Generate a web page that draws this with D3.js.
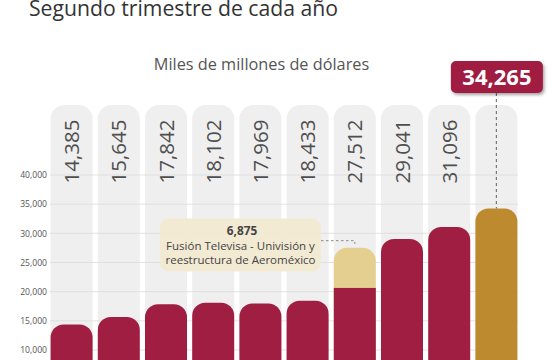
<!DOCTYPE html>
<html>
<head>
<meta charset="utf-8">
<script src="https://cdn.jsdelivr.net/npm/d3@7"></script>
<style>
  html, body { margin: 0; padding: 0; background: #fff; }
  svg { display: block; font-family: "Open Sans", "Noto Sans", sans-serif; }
</style>
</head>
<body>
<svg id="chart" width="560" height="360"></svg>
<script>
// ---- data ----
const years = ["2016","2017","2018","2019","2020","2021","2022","2023","2024","2025"];
const values = [14385, 15645, 17842, 18102, 17969, 18433, 27512, 29041, 31096, 34265];
const extraYear = "2022";
const extraValue = 6875;
const extraLabel = ["Fusión Televisa - Univisión y", "reestructura de Aeroméxico"];
const yTicks = [0, 5000, 10000, 15000, 20000, 25000, 30000, 35000, 40000];
const title = "Segundo trimestre de cada año";
const subtitle = "Miles de millones de dólares";

// ---- layout ----
const W = 560, H = 360;
const svg = d3.select("#chart");
const fmt = d3.format(",");

const x = d3.scaleBand().domain(years).range([48, 520]).paddingInner(0.11).paddingOuter(0.055);
const y = d3.scaleLinear().domain([0, 40000]).range([408.3, 175]);
const bw = x.bandwidth();
const bottom = y(0) + 20;

const crimson = "#a01e41", gold = "#bd8a2f", tan = "#e5cf90";

// title
svg.append("text").attr("x", 29).attr("y", 15.5)
  .attr("font-size", 21.2).attr("fill", "#333").text(title);
svg.append("text").attr("x", 261.5).attr("y", 70).attr("text-anchor", "middle")
  .attr("font-size", 16.3).attr("fill", "#555").text(subtitle);

// background columns
svg.append("g").selectAll("rect").data(years).join("rect")
  .attr("x", d => x(d)).attr("y", y(52000)).attr("width", bw)
  .attr("height", bottom - y(52000)).attr("rx", 14).attr("fill", "#efefef");

// grid
const grid = svg.append("g");
grid.selectAll("line").data(yTicks).join("line")
  .attr("x1", 50).attr("x2", 518).attr("y1", d => y(d)).attr("y2", d => y(d))
  .attr("stroke", "#dcdcdc").attr("stroke-width", 0.8);

// y axis
const yAxis = d3.axisLeft(y).tickValues(yTicks).tickFormat(fmt).tickSize(0).tickPadding(0);
const ga = svg.append("g").attr("transform", "translate(47,0)").call(yAxis);
ga.select(".domain").remove();
ga.selectAll("text").attr("font-size", 8.6).attr("fill", "#555")
  .attr("font-family", "'Open Sans', sans-serif");

// bars
const last = years[years.length - 1];
const bars = svg.append("g");
years.forEach((yr, i) => {
  const v = values[i];
  if (yr === extraYear) {
    bars.append("rect").attr("x", x(yr)).attr("y", y(v)).attr("width", bw)
      .attr("height", bottom - y(v)).attr("rx", 13).attr("fill", tan);
    bars.append("rect").attr("x", x(yr)).attr("y", y(v - extraValue)).attr("width", bw)
      .attr("height", bottom - y(v - extraValue)).attr("fill", crimson);
  } else {
    bars.append("rect").attr("x", x(yr)).attr("y", y(v)).attr("width", bw)
      .attr("height", bottom - y(v)).attr("rx", 13).attr("fill", yr === last ? gold : crimson);
  }
});

// rotated value labels
svg.append("g").selectAll("text").data(years.slice(0, -1)).join("text")
  .attr("transform", d => `translate(${x(d) + bw / 2 + 7.5},183.5) rotate(-90)`)
  .attr("font-size", 20.5).attr("fill", "#4f4f4f")
  .text((d, i) => fmt(values[i]));

// callout for last
const lastV = values[values.length - 1];
const cx = x(last) + bw / 2;
svg.append("line").attr("x1", cx).attr("x2", cx).attr("y1", 93).attr("y2", y(lastV))
  .attr("stroke", "#777").attr("stroke-width", 1.2).attr("stroke-dasharray", "3,3");
const defs = svg.append("defs");
const f = defs.append("filter").attr("id", "sh").attr("x", "-20%").attr("y", "-20%")
  .attr("width", "140%").attr("height", "160%");
f.append("feDropShadow").attr("dx", 1.5).attr("dy", 2).attr("stdDeviation", 1.5)
  .attr("flood-color", "#000").attr("flood-opacity", 0.35);
svg.append("rect").attr("x", cx - 45.5).attr("y", 61).attr("width", 92).attr("height", 32)
  .attr("rx", 5).attr("fill", crimson).attr("filter", "url(#sh)");
svg.append("text").attr("x", cx + 0.5).attr("y", 85).attr("text-anchor", "middle")
  .attr("font-size", 22).attr("font-weight", "bold").attr("fill", "#fff").text(fmt(lastV));

// annotation for 2022
const ex = x(extraYear) + bw / 2;
const exV = values[years.indexOf(extraYear)];
svg.append("path")
  .attr("d", `M321,240.7 H${ex} V${y(exV) - 4}`)
  .attr("fill", "none").attr("stroke", "#888").attr("stroke-width", 1).attr("stroke-dasharray", "2.5,2.5");
svg.append("rect").attr("x", 160).attr("y", 218.5).attr("width", 161).attr("height", 53)
  .attr("rx", 9).attr("fill", "#f1e9d1").attr("opacity", 0.95);
svg.append("text").attr("x", 242).attr("y", 234.5).attr("text-anchor", "middle")
  .attr("font-size", 11.8).attr("font-weight", "bold").attr("fill", "#444").text(fmt(extraValue));
svg.append("text").attr("x", 240.5).attr("y", 250).attr("text-anchor", "middle")
  .attr("font-size", 11.5).attr("fill", "#444")
  .selectAll("tspan").data(extraLabel).join("tspan")
  .attr("x", 240.5).attr("dy", (d, i) => i ? 13.5 : 0).text(d => d);
</script>
</body>
</html>
